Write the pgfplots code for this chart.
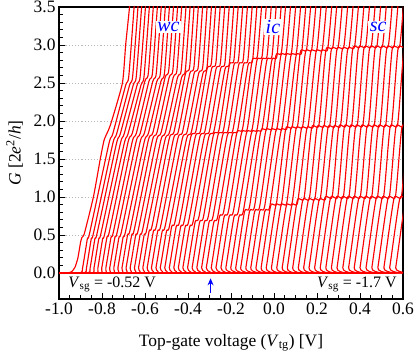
\documentclass[border=0pt]{standalone}
\usepackage{fontspec}
\setmainfont{Liberation Serif}
\usepackage{pgfplots}
\pgfplotsset{compat=1.18}
\usetikzlibrary{arrows.meta}

\pgfplotsset{trace/.style={red, line width=1.15pt, line join=round, smooth, tension=0.35}}

\begin{document}
\begin{tikzpicture}
\path[use as bounding box] (-59bp,-57bp) rectangle (356bp,299bp);
\begin{axis}[
    scale only axis,
    width=344bp, height=292bp,
    xmin=-1.0, xmax=0.6, ymin=-0.342, ymax=3.5,
    xtick={-1,-0.8,-0.6,-0.4,-0.2,0,0.2,0.4,0.6},
    ytick={0,0.5,1,1.5,2,2.5,3,3.5},
    minor x tick num=3, minor y tick num=4,
    tick align=inside, tick pos=left,
    major tick length=6bp, minor tick length=3.5bp,
    every tick/.style={black, line width=0.9pt},
    axis line style={line width=1.1pt},
    ymajorgrids,
    grid style={gray!55, dash pattern=on 1.2pt off 2pt, line width=0.7pt},
    /pgf/number format/assume math mode=true,
    /pgf/number format/fixed,
    /pgf/number format/fixed zerofill,
    /pgf/number format/precision=1,
    tick label style={font=\fontsize{17.5}{20}\selectfont},
    label style={font=\fontsize{17.5}{20}\selectfont},
    xlabel={Top-gate voltage (\textit{V}\textsubscript{tg}) [V]},
    ylabel={\textit{G} [2\textit{e}\textsuperscript{2}/\textit{h}]},
    xlabel style={at={(axis description cs:0.5,-0.150)}, anchor=center},
    ylabel style={at={(axis description cs:-0.129,0.5)}, anchor=center},
]
% first trace (weakest coupling)
\addplot[trace] coordinates {(-1,0) (-0.96,0) (-0.94,0.02) (-0.925,0.08) (-0.912,0.2) (-0.9,0.4) (-0.893,0.47) (-0.882,0.52) (-0.84,1.0) (-0.808,1.5) (-0.79,1.75) (-0.77,1.88) (-0.755,2.0) (-0.705,2.5) (-0.69,3.0) (-0.672,3.5) (-0.667,3.8)};
% wc
\addplot[trace] coordinates {(-1,0) (-0.900,0) (-0.890,0.07) (-0.868,0.45) (-0.858,0.52) (-0.768,1.70) (-0.750,1.83) (-0.690,2.47) (-0.675,2.60) (-0.643,3.8)};
\addplot[trace] coordinates {(-1,0) (-0.882,0) (-0.872,0.07) (-0.850,0.45) (-0.840,0.52) (-0.750,1.70) (-0.732,1.83) (-0.672,2.47) (-0.657,2.60) (-0.625,3.8)};
\addplot[trace] coordinates {(-1,0) (-0.865,0) (-0.855,0.07) (-0.833,0.45) (-0.823,0.52) (-0.733,1.70) (-0.715,1.83) (-0.655,2.47) (-0.640,2.60) (-0.608,3.8)};
\addplot[trace] coordinates {(-1,0) (-0.847,0) (-0.837,0.07) (-0.815,0.45) (-0.805,0.52) (-0.715,1.70) (-0.697,1.83) (-0.637,2.47) (-0.622,2.60) (-0.590,3.8)};
\addplot[trace] coordinates {(-1,0) (-0.829,0) (-0.819,0.07) (-0.797,0.45) (-0.787,0.52) (-0.697,1.70) (-0.679,1.83) (-0.619,2.47) (-0.604,2.60) (-0.572,3.8)};
\addplot[trace] coordinates {(-1,0) (-0.811,0) (-0.801,0.07) (-0.777,0.47) (-0.766,0.54) (-0.679,1.72) (-0.659,1.84) (-0.601,2.52) (-0.584,2.64) (-0.554,3.8)};
\addplot[trace] coordinates {(-1,0) (-0.792,0) (-0.782,0.07) (-0.758,0.47) (-0.747,0.54) (-0.660,1.72) (-0.640,1.84) (-0.582,2.52) (-0.565,2.64) (-0.535,3.8)};
\addplot[trace] coordinates {(-1,0) (-0.774,0) (-0.764,0.07) (-0.740,0.47) (-0.729,0.54) (-0.642,1.72) (-0.622,1.84) (-0.564,2.52) (-0.547,2.64) (-0.517,3.8)};
\addplot[trace] coordinates {(-1,0) (-0.755,0) (-0.745,0.07) (-0.721,0.47) (-0.710,0.54) (-0.623,1.72) (-0.603,1.84) (-0.545,2.52) (-0.528,2.64) (-0.498,3.8)};
\addplot[trace] coordinates {(-1,0) (-0.736,0) (-0.726,0.07) (-0.702,0.47) (-0.691,0.54) (-0.604,1.72) (-0.584,1.84) (-0.526,2.52) (-0.509,2.64) (-0.479,3.8)};
\addplot[trace] coordinates {(-1,0) (-0.717,0) (-0.707,0.07) (-0.681,0.50) (-0.669,0.57) (-0.585,1.74) (-0.563,1.85) (-0.507,2.57) (-0.489,2.68) (-0.460,3.8)};
\addplot[trace] coordinates {(-1,0) (-0.698,0) (-0.688,0.07) (-0.662,0.50) (-0.650,0.57) (-0.566,1.74) (-0.544,1.85) (-0.488,2.57) (-0.470,2.68) (-0.441,3.8)};
\addplot[trace] coordinates {(-1,0) (-0.679,0) (-0.669,0.07) (-0.643,0.50) (-0.631,0.57) (-0.547,1.74) (-0.525,1.85) (-0.469,2.57) (-0.451,2.68) (-0.422,3.8)};
\addplot[trace] coordinates {(-1,0) (-0.659,0) (-0.649,0.07) (-0.623,0.50) (-0.611,0.57) (-0.527,1.74) (-0.505,1.85) (-0.449,2.57) (-0.431,2.68) (-0.402,3.8)};
\addplot[trace] coordinates {(-1,0) (-0.640,0) (-0.630,0.07) (-0.604,0.50) (-0.592,0.57) (-0.508,1.74) (-0.486,1.85) (-0.430,2.57) (-0.412,2.68) (-0.383,3.8)};
\addplot[trace] coordinates {(-1,0) (-0.620,0) (-0.610,0.07) (-0.581,0.55) (-0.567,0.62) (-0.488,1.76) (-0.465,1.86) (-0.412,2.62) (-0.392,2.72) (-0.365,3.8)};
\addplot[trace] coordinates {(-1,0) (-0.600,0) (-0.590,0.07) (-0.561,0.55) (-0.547,0.62) (-0.468,1.76) (-0.445,1.86) (-0.392,2.62) (-0.372,2.72) (-0.345,3.8)};
\addplot[trace] coordinates {(-1,0) (-0.580,0) (-0.570,0.07) (-0.541,0.55) (-0.527,0.62) (-0.448,1.76) (-0.425,1.86) (-0.372,2.62) (-0.352,2.72) (-0.325,3.8)};
\addplot[trace] coordinates {(-1,0) (-0.559,0) (-0.549,0.07) (-0.520,0.55) (-0.506,0.62) (-0.427,1.76) (-0.404,1.86) (-0.351,2.62) (-0.331,2.72) (-0.304,3.8)};
\addplot[trace] coordinates {(-1,0) (-0.539,0) (-0.529,0.07) (-0.500,0.55) (-0.486,0.62) (-0.407,1.76) (-0.384,1.86) (-0.331,2.62) (-0.311,2.72) (-0.284,3.8)};
% ic
\addplot[trace] coordinates {(-1,0) (-0.518,0) (-0.508,0.07) (-0.476,0.61) (-0.460,0.68) (-0.388,1.78) (-0.363,1.87) (-0.312,2.68) (-0.291,2.77) (-0.264,3.8)};
\addplot[trace] coordinates {(-1,0) (-0.497,0) (-0.487,0.07) (-0.455,0.61) (-0.439,0.68) (-0.367,1.78) (-0.342,1.87) (-0.291,2.68) (-0.270,2.77) (-0.243,3.8)};
\addplot[trace] coordinates {(-1,0) (-0.476,0) (-0.466,0.07) (-0.434,0.61) (-0.418,0.68) (-0.346,1.78) (-0.321,1.87) (-0.270,2.68) (-0.249,2.77) (-0.222,3.8)};
\addplot[trace] coordinates {(-1,0) (-0.455,0) (-0.445,0.07) (-0.413,0.61) (-0.397,0.68) (-0.325,1.78) (-0.300,1.87) (-0.249,2.68) (-0.228,2.77) (-0.201,3.8)};
\addplot[trace] coordinates {(-1,0) (-0.434,0) (-0.424,0.07) (-0.392,0.61) (-0.376,0.68) (-0.304,1.78) (-0.279,1.87) (-0.228,2.68) (-0.207,2.77) (-0.180,3.8)};
\addplot[trace] coordinates {(-1,0) (-0.412,0) (-0.402,0.07) (-0.367,0.67) (-0.349,0.74) (-0.283,1.80) (-0.256,1.88) (-0.208,2.73) (-0.186,2.81) (-0.159,3.8)};
\addplot[trace] coordinates {(-1,0) (-0.391,0) (-0.381,0.07) (-0.346,0.67) (-0.328,0.74) (-0.262,1.80) (-0.235,1.88) (-0.187,2.73) (-0.165,2.81) (-0.138,3.8)};
\addplot[trace] coordinates {(-1,0) (-0.369,0) (-0.359,0.07) (-0.324,0.67) (-0.306,0.74) (-0.240,1.80) (-0.213,1.88) (-0.165,2.73) (-0.143,2.81) (-0.116,3.8)};
\addplot[trace] coordinates {(-1,0) (-0.347,0) (-0.337,0.07) (-0.302,0.67) (-0.284,0.74) (-0.218,1.80) (-0.191,1.88) (-0.143,2.73) (-0.121,2.81) (-0.094,3.8)};
\addplot[trace] coordinates {(-1,0) (-0.325,0) (-0.315,0.07) (-0.280,0.67) (-0.262,0.74) (-0.196,1.80) (-0.169,1.88) (-0.121,2.73) (-0.099,2.81) (-0.072,3.8)};
\addplot[trace] coordinates {(-1,0) (-0.302,0) (-0.292,0.07) (-0.254,0.74) (-0.234,0.81) (-0.174,1.83) (-0.146,1.90) (-0.102,2.79) (-0.077,2.86) (-0.050,3.8)};
\addplot[trace] coordinates {(-1,0) (-0.280,0) (-0.270,0.07) (-0.232,0.74) (-0.212,0.81) (-0.152,1.83) (-0.124,1.90) (-0.080,2.79) (-0.055,2.86) (-0.028,3.8)};
\addplot[trace] coordinates {(-1,0) (-0.257,0) (-0.247,0.07) (-0.209,0.74) (-0.189,0.81) (-0.129,1.83) (-0.101,1.90) (-0.057,2.79) (-0.032,2.86) (-0.005,3.8)};
\addplot[trace] coordinates {(-1,0) (-0.234,0) (-0.224,0.07) (-0.186,0.74) (-0.166,0.81) (-0.106,1.83) (-0.078,1.90) (-0.034,2.79) (-0.009,2.86) (0.018,3.8)};
\addplot[trace] coordinates {(-1,0) (-0.211,0) (-0.201,0.07) (-0.163,0.74) (-0.143,0.81) (-0.083,1.83) (-0.055,1.90) (-0.011,2.79) (0.014,2.86) (0.041,3.8)};
\addplot[trace] coordinates {(-1,0) (-0.188,0) (-0.178,0.07) (-0.137,0.81) (-0.114,0.87) (-0.062,1.86) (-0.032,1.92) (0.008,2.85) (0.035,2.91) (0.062,3.8)};
\addplot[trace] coordinates {(-1,0) (-0.165,0) (-0.155,0.07) (-0.114,0.81) (-0.091,0.87) (-0.039,1.86) (-0.009,1.92) (0.031,2.85) (0.058,2.91) (0.085,3.8)};
\addplot[trace] coordinates {(-1,0) (-0.141,0) (-0.131,0.07) (-0.090,0.81) (-0.067,0.87) (-0.015,1.86) (0.015,1.92) (0.055,2.85) (0.082,2.91) (0.109,3.8)};
\addplot[trace] coordinates {(-1,0) (-0.118,0) (-0.108,0.07) (-0.067,0.81) (-0.044,0.87) (0.008,1.86) (0.038,1.92) (0.078,2.85) (0.105,2.91) (0.132,3.8)};
\addplot[trace] coordinates {(-1,0) (-0.094,0) (-0.084,0.07) (-0.043,0.81) (-0.020,0.87) (0.032,1.86) (0.062,1.92) (0.102,2.85) (0.129,2.91) (0.156,3.8)};
\addplot[trace] coordinates {(-1,0) (-0.070,0) (-0.060,0.07) (-0.016,0.88) (0.012,0.93) (0.054,1.89) (0.086,1.94) (0.122,2.90) (0.152,2.95) (0.179,3.8)};
\addplot[trace] coordinates {(-1,0) (-0.046,0) (-0.036,0.07) (0.008,0.88) (0.036,0.93) (0.078,1.89) (0.110,1.94) (0.146,2.90) (0.176,2.95) (0.203,3.8)};
\addplot[trace] coordinates {(-1,0) (-0.022,0) (-0.012,0.07) (0.032,0.88) (0.060,0.93) (0.102,1.89) (0.134,1.94) (0.170,2.90) (0.200,2.95) (0.227,3.8)};
\addplot[trace] coordinates {(-1,0) (0.003,0) (0.013,0.07) (0.057,0.88) (0.085,0.93) (0.127,1.89) (0.159,1.94) (0.195,2.90) (0.225,2.95) (0.252,3.8)};
\addplot[trace] coordinates {(-1,0) (0.028,0) (0.038,0.07) (0.082,0.88) (0.110,0.93) (0.152,1.89) (0.184,1.94) (0.220,2.90) (0.250,2.95) (0.277,3.8)};
% sc
\addplot[trace] coordinates {(-1,0) (0.052,0) (0.062,0.07) (0.108,0.95) (0.140,0.99) (0.175,1.91) (0.209,1.95) (0.241,2.93) (0.274,2.98) (0.300,3.8)};
\addplot[trace] coordinates {(-1,0) (0.077,0) (0.087,0.07) (0.133,0.95) (0.165,0.99) (0.200,1.91) (0.234,1.95) (0.266,2.93) (0.299,2.98) (0.325,3.8)};
\addplot[trace] coordinates {(-1,0) (0.103,0) (0.113,0.07) (0.159,0.95) (0.191,0.99) (0.226,1.91) (0.260,1.95) (0.292,2.93) (0.325,2.98) (0.351,3.8)};
\addplot[trace] coordinates {(-1,0) (0.128,0) (0.138,0.07) (0.184,0.95) (0.216,0.99) (0.251,1.91) (0.285,1.95) (0.317,2.93) (0.350,2.98) (0.376,3.8)};
\addplot[trace] coordinates {(-1,0) (0.153,0) (0.163,0.07) (0.209,0.95) (0.241,0.99) (0.276,1.91) (0.310,1.95) (0.342,2.93) (0.375,2.98) (0.401,3.8)};
\addplot[trace] coordinates {(-1,0) (0.179,0) (0.189,0.07) (0.236,0.98) (0.271,1.01) (0.301,1.92) (0.336,1.955) (0.366,2.95) (0.401,2.99) (0.426,3.8)};
\addplot[trace] coordinates {(-1,0) (0.205,0) (0.215,0.07) (0.262,0.98) (0.297,1.01) (0.327,1.92) (0.362,1.955) (0.392,2.95) (0.427,2.99) (0.452,3.8)};
\addplot[trace] coordinates {(-1,0) (0.231,0) (0.241,0.07) (0.288,0.98) (0.323,1.01) (0.353,1.92) (0.388,1.955) (0.418,2.95) (0.453,2.99) (0.478,3.8)};
\addplot[trace] coordinates {(-1,0) (0.257,0) (0.267,0.07) (0.314,0.98) (0.349,1.01) (0.379,1.92) (0.414,1.955) (0.444,2.95) (0.479,2.99) (0.504,3.8)};
\addplot[trace] coordinates {(-1,0) (0.283,0) (0.293,0.07) (0.340,0.98) (0.375,1.01) (0.405,1.92) (0.440,1.955) (0.470,2.95) (0.505,2.99) (0.530,3.8)};
\addplot[trace] coordinates {(-1,0) (0.310,0) (0.320,0.07) (0.367,0.98) (0.402,1.01) (0.432,1.92) (0.467,1.955) (0.497,2.95) (0.532,2.99) (0.557,3.8)};
\addplot[trace] coordinates {(-1,0) (0.337,0) (0.347,0.07) (0.394,0.98) (0.429,1.01) (0.459,1.92) (0.494,1.955) (0.524,2.95) (0.559,2.99) (0.584,3.8)};
\addplot[trace] coordinates {(-1,0) (0.363,0) (0.373,0.07) (0.420,0.98) (0.455,1.01) (0.485,1.92) (0.520,1.955) (0.550,2.95) (0.585,2.99) (0.610,3.8)};
\addplot[trace] coordinates {(-1,0) (0.390,0) (0.400,0.07) (0.447,0.98) (0.482,1.01) (0.512,1.92) (0.547,1.955) (0.577,2.95) (0.612,2.99) (0.637,3.8)};
\addplot[trace] coordinates {(-1,0) (0.418,0) (0.428,0.07) (0.475,0.98) (0.510,1.01) (0.540,1.92) (0.575,1.955) (0.605,2.95) (0.640,2.99) (0.665,3.8)};
\addplot[trace] coordinates {(-1,0) (0.445,0) (0.455,0.07) (0.502,0.98) (0.537,1.01) (0.567,1.92) (0.602,1.955) (0.632,2.95) (0.667,2.99) (0.692,3.8)};
\addplot[trace] coordinates {(-1,0) (0.473,0) (0.483,0.07) (0.530,0.98) (0.565,1.01) (0.595,1.92) (0.630,1.955) (0.660,2.95) (0.695,2.99) (0.720,3.8)};
\addplot[trace] coordinates {(-1,0) (0.501,0) (0.511,0.07) (0.558,0.98) (0.593,1.01) (0.623,1.92) (0.658,1.955) (0.688,2.95) (0.723,2.99) (0.748,3.8)};
\addplot[trace] coordinates {(-1,0) (0.528,0) (0.538,0.07) (0.585,0.98) (0.620,1.01) (0.650,1.92) (0.685,1.955) (0.715,2.95) (0.750,2.99) (0.775,3.8)};
\addplot[trace] coordinates {(-1,0) (0.556,0) (0.566,0.07) (0.613,0.98) (0.648,1.01) (0.678,1.92) (0.713,1.955) (0.743,2.95) (0.778,2.99) (0.803,3.8)};

% annotations
\node[anchor=base west, inner sep=0, font=\fontsize{16}{18}\selectfont] at (axis cs:-0.957,-0.188) {\textit{V}\textsubscript{sg} = -0.52 V};
\node[anchor=base east, inner sep=0, font=\fontsize{16}{18}\selectfont] at (axis cs:0.571,-0.188) {\textit{V}\textsubscript{sg} = -1.7 V};
\draw[blue, line width=1.4pt, -{Stealth[length=7bp,width=6bp]}] (axis cs:-0.295,-0.26) -- (axis cs:-0.295,-0.07);
\node[blue, fill=white, inner sep=1.5bp, font=\fontsize{20}{22}\selectfont\itshape] at (axis cs:-0.491,3.237) {wc};
\node[blue, fill=white, inner sep=1.5bp, font=\fontsize{20}{22}\selectfont\itshape] at (axis cs:-0.005,3.237) {ic};
\node[blue, fill=white, inner sep=1.5bp, font=\fontsize{20}{22}\selectfont\itshape] at (axis cs:0.484,3.237) {sc};
\end{axis}
\end{tikzpicture}
\end{document}
